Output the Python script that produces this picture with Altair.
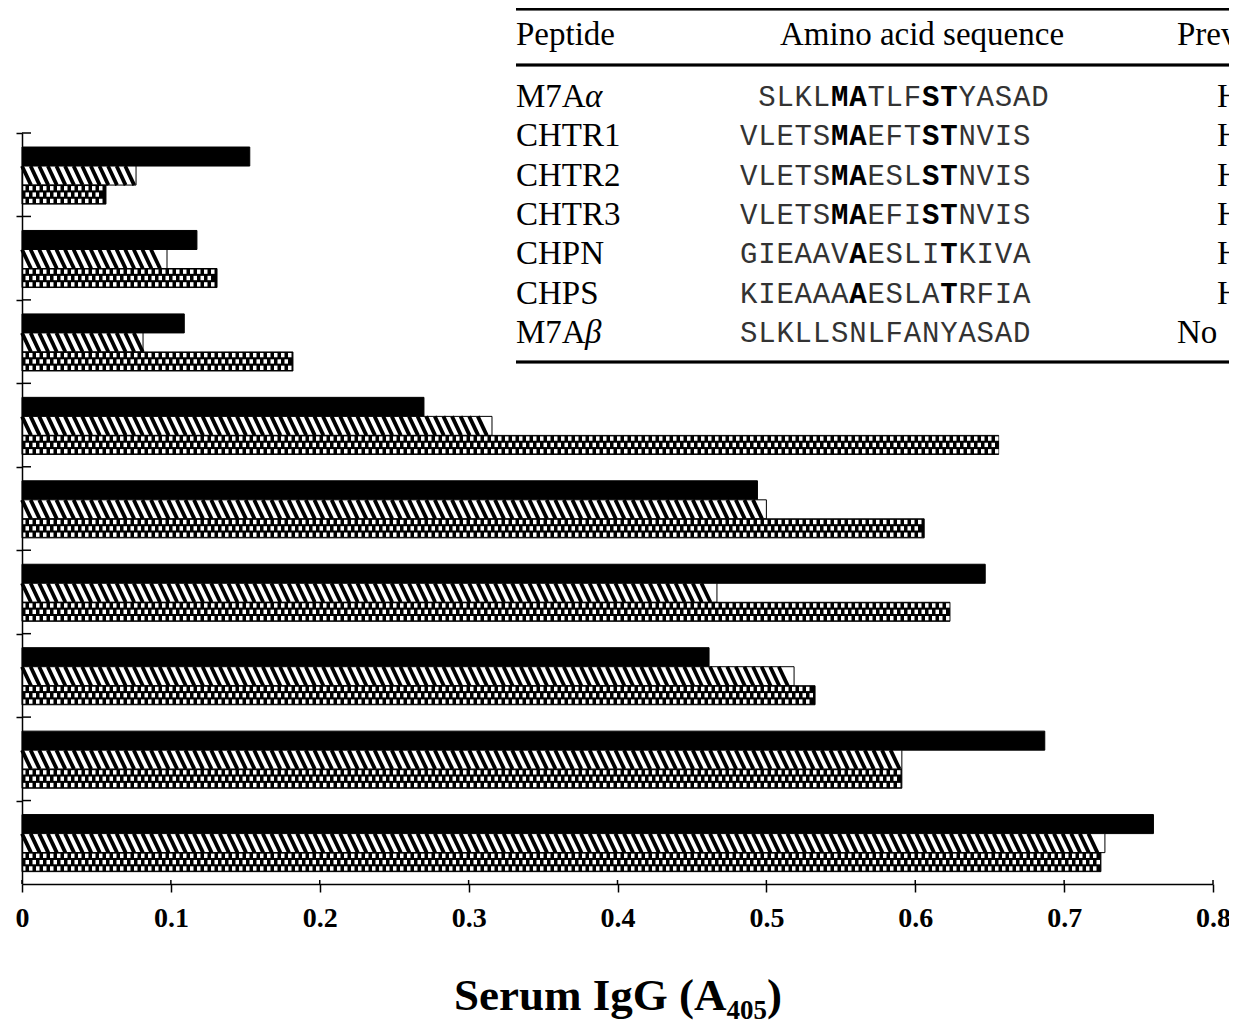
import altair as alt
import pandas as pd

# ---------------- data ----------------
groups = ["1", "2", "3", "4", "5", "6", "7", "8", "9"]
series = ["Series 1", "Series 2", "Series 3"]
series1 = [0.153, 0.1175, 0.109, 0.270, 0.494, 0.647, 0.4615, 0.687, 0.760]
series2 = [0.0766, 0.0974, 0.0813, 0.3157, 0.500, 0.4668, 0.5186, 0.591, 0.7274]
series3 = [0.0564, 0.131, 0.182, 0.656, 0.606, 0.6233, 0.5327, 0.591, 0.7247]
x_ticks = [0, 0.1, 0.2, 0.3, 0.4, 0.5, 0.6, 0.7, 0.8]

headers = ["Peptide", "Amino acid sequence", "Prevalence"]
peptides = ["M7Aα", "CHTR1", "CHTR2", "CHTR3", "CHPN", "CHPS", "M7Aβ"]
sequences = [" SLKL[MA]TLF[ST]YASAD", "VLETS[MA]EFT[ST]NVIS", "VLETS[MA]ESL[ST]NVIS",
             "VLETS[MA]EFI[ST]NVIS", "GIEAAV[A]ESLI[T]KIVA", "KIEAAA[A]ESLA[T]RFIA",
             "SLKLLSNLFANYASAD"]
prevalence = ["High", "High", "High", "High", "High", "High", "No"]

# ---------------- tables ----------------
rows = []
for gi, g in enumerate(groups):
    for si, vals in enumerate([series1, series2, series3]):
        rows.append({"group": g, "g": gi, "series": series[si], "s": si, "value": vals[gi]})
bars_df = pd.DataFrame(rows)
groups_df = pd.DataFrame({"group": groups, "g": list(range(len(groups)))})
xticks_df = pd.DataFrame({"t": x_ticks})

chars = []
for ri, seq in enumerate(sequences):
    bold = False
    col = 0
    for ch in seq:
        if ch == "[":
            bold = True
            continue
        if ch == "]":
            bold = False
            continue
        if ch != " ":
            chars.append({"row": ri + 1, "col": col, "ch": ch, "bold": bold})
        col += 1
chars_df = pd.DataFrame(chars)

names_df = pd.DataFrame({
    "row": list(range(1, len(peptides) + 1)),
    "base": [p[:-1] if p[-1] in "αβ" else p for p in peptides],
    "greek": [p[-1] if p[-1] in "αβ" else "" for p in peptides],
    "prev": prevalence,
})

# ---------------- layout constants ----------------
PAD = 0.168      # gap above first bar in a group (in group units)
BH = 0.228       # bar thickness (group units)
PX = 1488.75     # px per x unit
P = 8.6 / PX     # hatch period
D = 9.0 / PX     # hatch slant
CW = 3.5 / PX    # checker cell width
RH = BH / 3
G = 0.012
YT_IN = 9.0 / PX      # inner part of y ticks
XT_IN = 4.0 / 83.4    # inner part of x ticks

SERIF = "Liberation Serif"
MONO = "Liberation Mono"

xscale = alt.Scale(domain=[0, 0.8], nice=False, zero=True)
yscale = alt.Scale(domain=[0, 9], nice=False, reverse=True, zero=False)

xaxis = alt.Axis(values=x_ticks, labelExpr="datum.value == 0 ? '0' : format(datum.value, '.1f')",
                 labelFont=SERIF, labelFontWeight="bold", labelFontSize=28, labelColor="black",
                 labelPadding=12, labelFlush=False, tickSize=8, tickColor="black", tickWidth=1.5,
                 domainColor="black", domainWidth=1.5, grid=False, zindex=1,
                 title="Serum IgG (A₄₀₅)", titleFont=SERIF, titleFontSize=45,
                 titleFontWeight="bold", titleColor="black", titlePadding=41)
yaxis = alt.Axis(values=list(range(9)), labels=False, tickSize=6, tickColor="black",
                 tickWidth=1.5, domainColor="black", domainWidth=1.5, grid=False,
                 title=None, zindex=1)

base = alt.Chart(bars_df).transform_calculate(
    y0=f"datum.g + {PAD} + datum.s * {BH}",
    y1=f"datum.g + {PAD} + (datum.s + 1) * {BH}",
    x0="0",
)

bars = base.mark_rect(stroke="black", strokeWidth=1).encode(
    x=alt.X("x0:Q", scale=xscale, axis=xaxis),
    x2="value:Q",
    y=alt.Y("y0:Q", scale=yscale, axis=yaxis),
    y2="y1:Q",
    fill=alt.Fill("series:N", scale=alt.Scale(domain=series, range=["black", "white", "black"]),
                  legend=None),
)

stripes = base.transform_filter("datum.s == 1").transform_calculate(
    k=f"sequence(0, floor((datum.value - {D}) / {P}) + 1)"
).transform_flatten(["k"]).transform_calculate(
    xs=f"datum.k * {P}", xe=f"datum.k * {P} + {D}"
).mark_rule(color="black", strokeWidth=3.8).encode(
    x=alt.X("xs:Q", scale=xscale, axis=xaxis),
    x2="xe:Q",
    y=alt.Y("y0:Q", scale=yscale, axis=yaxis),
    y2="y1:Q",
)

checks = base.transform_filter("datum.s == 2").transform_calculate(
    c=f"sequence(0, floor(datum.value / {CW}))", r="[0, 1, 2]"
).transform_flatten(["c"]).transform_flatten(["r"]).transform_filter(
    "(datum.c + datum.r) % 2 == 0"
).transform_calculate(
    cx0=f"datum.c * {CW}", cx1=f"(datum.c + 1) * {CW}",
    cy0=f"datum.y0 + datum.r * {RH} + {G}", cy1=f"datum.y0 + (datum.r + 1) * {RH} - {G}",
).mark_rect(fill="white").encode(
    x=alt.X("cx0:Q", scale=xscale, axis=xaxis),
    x2="cx1:Q",
    y=alt.Y("cy0:Q", scale=yscale, axis=yaxis),
    y2="cy1:Q",
)

# inward halves of the crossing ticks
yticks_in = alt.Chart(groups_df).transform_calculate(
    xa="0", xb=f"{YT_IN}"
).mark_rule(color="black", strokeWidth=1.5).encode(
    x=alt.X("xa:Q", scale=xscale, axis=xaxis), x2="xb:Q",
    y=alt.Y("g:Q", scale=yscale, axis=yaxis),
)
xticks_in = alt.Chart(xticks_df).transform_calculate(
    ya="9", yb=f"9 - {XT_IN}"
).mark_rule(color="black", strokeWidth=1.5).encode(
    x=alt.X("t:Q", scale=xscale, axis=xaxis),
    y=alt.Y("ya:Q", scale=yscale, axis=yaxis), y2="yb:Q",
)

main = alt.layer(bars, stripes, checks, yticks_in, xticks_in)

# ---------------- inset table ----------------
rowscale = alt.Scale(domain=[1, 7], range=[-36, 200])
colscale = alt.Scale(domain=[0, 16], range=[718, 718 + 16 * 18.2])
FS = 33
C3 = 1155   # third column (cut by the right edge, as in the original)

names = alt.Chart(names_df).mark_text(font=SERIF, fontSize=FS, align="left", baseline="middle",
                                      color="black").encode(
    x=alt.value(494), y=alt.Y("row:Q", scale=rowscale, axis=None), text="base:N")
greek = alt.Chart(names_df).mark_text(font=SERIF, fontSize=FS, fontStyle="italic", align="left",
                                      baseline="middle", color="black").encode(
    x=alt.value(563), y=alt.Y("row:Q", scale=rowscale, axis=None), text="greek:N")
prev_hi = alt.Chart(names_df).transform_filter("datum.prev == 'High'").mark_text(
    font=SERIF, fontSize=FS, align="left", baseline="middle", color="black").encode(
    x=alt.value(C3 + 40), y=alt.Y("row:Q", scale=rowscale, axis=None), text="prev:N")
prev_no = alt.Chart(names_df).transform_filter("datum.prev != 'High'").mark_text(
    font=SERIF, fontSize=FS, align="left", baseline="middle", color="black").encode(
    x=alt.value(C3), y=alt.Y("row:Q", scale=rowscale, axis=None), text="prev:N")

seq_norm = alt.Chart(chars_df).transform_filter("!datum.bold").mark_text(
    font=MONO, fontSize=29, align="left", baseline="middle", color="#333").encode(
    x=alt.X("col:Q", scale=colscale, axis=None),
    y=alt.Y("row:Q", scale=rowscale, axis=None), text="ch:N")
seq_bold = alt.Chart(chars_df).transform_filter("datum.bold").mark_text(
    font=MONO, fontSize=29, fontWeight="bold", align="left", baseline="middle",
    color="black").encode(
    x=alt.X("col:Q", scale=colscale, axis=None),
    y=alt.Y("row:Q", scale=rowscale, axis=None), text="ch:N")

hdr_df = pd.DataFrame({"h": headers})
hdr1 = alt.Chart(hdr_df).transform_filter(f"datum.h == '{headers[0]}'").mark_text(
    font=SERIF, fontSize=FS, align="left", baseline="middle", color="black").encode(
    x=alt.value(494), y=alt.value(-98), text="h:N")
hdr2 = alt.Chart(hdr_df).transform_filter(f"datum.h == '{headers[1]}'").mark_text(
    font=SERIF, fontSize=FS, align="center", baseline="middle", color="black").encode(
    x=alt.value(900), y=alt.value(-98), text="h:N")
hdr3 = alt.Chart(hdr_df).transform_filter(f"datum.h == '{headers[2]}'").mark_text(
    font=SERIF, fontSize=FS, align="left", baseline="middle", color="black").encode(
    x=alt.value(C3), y=alt.value(-98), text="h:N")

rule_top = alt.Chart(hdr_df).mark_rule(color="black", strokeWidth=2.5).encode(
    x=alt.value(494), x2=alt.value(1220), y=alt.value(-124))
rule_mid = alt.Chart(hdr_df).mark_rule(color="black", strokeWidth=2.5).encode(
    x=alt.value(494), x2=alt.value(1220), y=alt.value(-68))
rule_bot = alt.Chart(hdr_df).mark_rule(color="black", strokeWidth=2.5).encode(
    x=alt.value(494), x2=alt.value(1220), y=alt.value(229))

table = alt.layer(rule_top, rule_mid, rule_bot, hdr1, hdr2, hdr3, names, greek,
                  seq_norm, seq_bold, prev_hi, prev_no)

chart = alt.layer(main, table).resolve_scale(x="independent", y="independent").properties(
    width=1191, height=751,
    padding={"left": 14, "top": 125, "right": 16, "bottom": 139},
    autosize=alt.AutoSizeParams(type="none"),
    background="white",
).configure_view(stroke=None)

chart.save("out.html", embed_options={"renderer": "svg", "actions": False})
